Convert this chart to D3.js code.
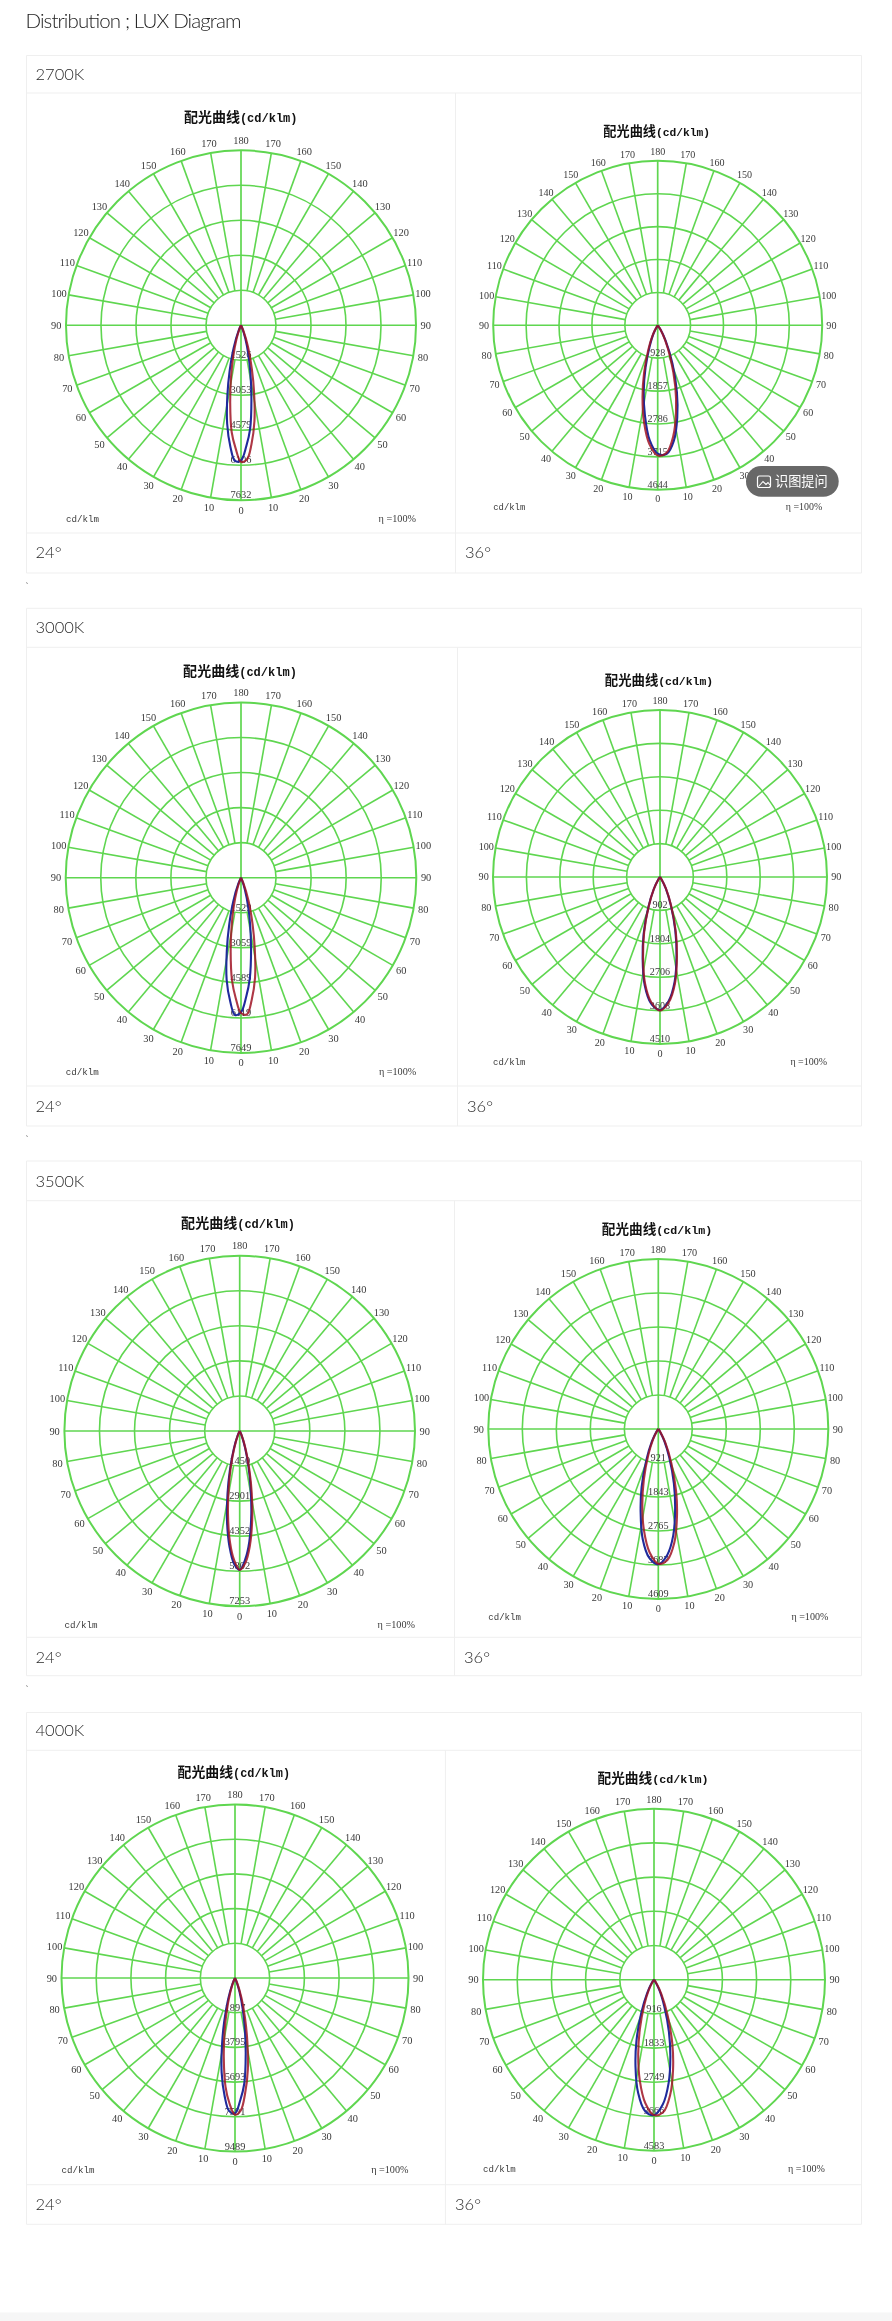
<!DOCTYPE html>
<html><head><meta charset="utf-8">
<script src="https://cdn.jsdelivr.net/npm/d3@7/dist/d3.min.js"></script>
<style>
html,body{margin:0;padding:0;background:#fff}
svg{display:block;filter:blur(0.4px)}
</style></head><body><div id="chart"></div>
<script>
// ---------- data ----------
const pageTitle = "Distribution ; LUX Diagram";
const cctLabels = ["2700K","3000K","3500K","4000K"];
const beamLabels = ["24°","36°"];
const angleTicks = [10,20,30,40,50,60,70,80,90,100,110,120,130,140,150,160,170];
const titleCn = "配光曲线";
const titleEn = "(cd/klm)";
const unitLabel = "cd/klm";
const effLabel = "η =100%";

// ring labels (cd/klm) per diagram
const rings2700n = [1526,3053,4579,6106,7632];
const rings2700w = [928,1857,2786,3715,4644];
const rings3000n = [1529,3059,4589,6119,7649];
const rings3000w = [902,1804,2706,3608,4510];
const rings3500n = [1450,2901,4352,5802,7253];
const rings3500w = [921,1843,2765,3687,4609];
const rings4000n = [1897,3795,5693,7591,9489];
const rings4000w = [916,1833,2749,3666,4583];

// curve sample angles (deg, signed from nadir)
const anglesNarrow = [-24,-18,-14,-11,-8,-5,-2.5,0,2.5,5,8,11,14,18,24];
const anglesWide = [-34,-27,-21,-16,-12,-8,-4,0,4,8,12,16,21,27,34];

// intensity (cd/klm) at those angles
const blue2700n = [244,1038,2046,3114,4335,5312,5923,5892,5282,4549,3267,2168,1343,611,92];
const red2700n  = [122,641,1404,2265,3389,4671,5373,5953,5862,5221,4213,2992,1954,977,244];
const blue2700w = [0,260,632,1245,1895,2582,3251,3622,3641,3288,2656,1969,1170,502,149];
const red2700w  = [37,316,743,1393,2062,2768,3362,3678,3604,3158,2489,1802,1022,446,111];
const blue3000n = [275,1101,2142,3243,4497,5415,5997,5874,5201,4406,3151,2080,1285,551,92];
const red3000n  = [92,581,1316,2142,3243,4497,5262,5905,5966,5354,4406,3151,2080,1071,245];
const blue3000w = [90,379,884,1606,2255,2959,3428,3590,3355,2850,2147,1497,812,343,54];
const red3000w  = [72,361,848,1551,2201,2904,3392,3608,3392,2904,2201,1551,848,361,72];
const blue3500n = [203,812,1683,2640,3771,4816,5483,5744,5309,4584,3452,2350,1480,696,145];
const red3500n  = [145,696,1509,2379,3481,4613,5338,5744,5454,4787,3713,2611,1654,812,203];
const blue3500w = [92,387,903,1641,2304,3023,3503,3669,3429,2913,2194,1530,830,350,55];
const red3500w  = [37,313,756,1419,2083,2784,3355,3650,3558,3116,2433,1751,984,424,111];
const blue4000n = [304,1215,2429,3720,5238,6490,7287,7401,6680,5807,4213,2816,1746,797,152];
const red4000n  = [190,873,1860,2998,4403,5959,6870,7477,7249,6339,5048,3530,2277,1139,266];
const blue4000w = [110,403,953,1705,2383,3061,3519,3629,3354,2804,2108,1448,770,330,37];
const red4000w  = [37,312,733,1375,2035,2731,3318,3629,3556,3116,2456,1778,1008,440,110];

// ---------- layout ----------
const W = 892, H = 2321, tableL = 26.5, tableR = 861.5;
const tables = [
 {top:55.5, r1:93, r2:533, bot:573, div:455.5, hy:74, by:552, x2:465},
 {top:608.3, r1:647.3, r2:1086, bot:1126, div:457.5, hy:627, by:1105.7, x2:467},
 {top:1161, r1:1200.7, r2:1637.3, bot:1675.7, div:454.5, hy:1180.7, by:1656.7, x2:464},
 {top:1712.5, r1:1750.3, r2:2184.7, bot:2224.3, div:445.4, hy:1730, by:2204, x2:455}
];
const panels = [
 {cx:241, cy:325.3, r:175, tx:240.7, ty:116.7, rings:rings2700n, blue:blue2700n, red:red2700n, a:anglesNarrow},
 {cx:657.7, cy:325.3, r:164.5, tx:656.7, ty:130, rings:rings2700w, blue:blue2700w, red:red2700w, a:anglesWide},
 {cx:241, cy:877.7, r:175.3, tx:240, ty:670, rings:rings3000n, blue:blue3000n, red:red3000n, a:anglesNarrow},
 {cx:660, cy:877, r:167, tx:659, ty:679, rings:rings3000w, blue:blue3000w, red:red3000w, a:anglesWide},
 {cx:239.7, cy:1431, r:175.3, tx:238, ty:1222.7, rings:rings3500n, blue:blue3500n, red:red3500n, a:anglesNarrow},
 {cx:658.3, cy:1429, r:170, tx:657, ty:1228, rings:rings3500w, blue:blue3500w, red:red3500w, a:anglesWide},
 {cx:235, cy:1978, r:173.5, tx:233.8, ty:1771.6, rings:rings4000n, blue:blue4000n, red:red4000n, a:anglesNarrow},
 {cx:654, cy:1979.7, r:171, tx:653, ty:1777, rings:rings4000w, blue:blue4000w, red:red4000w, a:anglesWide}
];
const GREEN = "#5fd650", SANS = "Lato, 'Open Sans', sans-serif", SERIF = "'Liberation Serif', serif",
      MONO = "'Liberation Mono', monospace", CJK = "'Noto Sans CJK SC', sans-serif";

const svg = d3.select("#chart").append("svg").attr("width",W).attr("height",H).attr("viewBox",`0 0 ${W} ${H}`);
svg.append("rect").attr("width",W).attr("height",H).attr("fill","#fff");
svg.append("rect").attr("y",2312.5).attr("width",W).attr("height",H-2312.5).attr("fill","#f6f6f6");

svg.append("text").attr("x",25.5).attr("y",27.5).attr("font-family",SANS).attr("font-weight",300)
   .attr("font-size",20.5).attr("fill","#1c1c1c").attr("textLength",216).text(pageTitle);

// tables
const tg = svg.selectAll("g.table").data(tables).join("g").attr("class","table");
tg.each(function(t,i){
  const g = d3.select(this);
  const hline = y => g.append("line").attr("x1",tableL).attr("x2",tableR).attr("y1",y).attr("y2",y);
  [t.top,t.r1,t.r2,t.bot].forEach(hline);
  [[tableL,t.top,t.bot],[tableR,t.top,t.bot],[t.div,t.r1,t.bot]].forEach(([x,a,b]) =>
    g.append("line").attr("x1",x).attr("x2",x).attr("y1",a).attr("y2",b));
  g.selectAll("line").attr("stroke","#efefef").attr("stroke-width",1);
  const lab = (x,y,s) => g.append("text").attr("x",x).attr("y",y).attr("dy","0.36em")
     .attr("font-family",SANS).attr("font-weight",300).attr("font-size",16.5).attr("fill","#2a2a2a").text(s);
  lab(35.5,t.hy,cctLabels[i]);
  lab(35.5,t.by,beamLabels[0]);
  lab(t.x2,t.by,beamLabels[1]);
  if(i<3) g.append("text").attr("x",25.5).attr("y",t.bot+16).attr("font-family",SERIF).attr("font-size",9).attr("fill","#666").text("`");
});

// polar diagrams
const pg = svg.selectAll("g.panel").data(panels).join("g").attr("class","panel")
  .attr("transform",d=>`translate(${d.cx},${d.cy})`);
pg.each(function(p){
  const g = d3.select(this);
  const max = p.rings[p.rings.length-1];
  const rs = d3.scaleLinear().domain([0,max]).range([0,p.r]);
  const ang = d3.scaleLinear().domain([0,180]).range([0,Math.PI]);
  const pos = (deg,rad) => [rad*Math.sin(ang(deg)), rad*Math.cos(ang(deg))];
  const r1 = rs(p.rings[0]);

  // rings
  g.selectAll("circle").data(p.rings).join("circle")
    .attr("r",d=>rs(d)).attr("fill","none").attr("stroke",GREEN)
    .attr("stroke-width",(d,i)=>i===4?2:1.6);
  // spokes
  const spoke = (deg,from) => {
    [1,-1].forEach(s=>{
      const [x1,y1]=pos(deg,from),[x2,y2]=pos(deg,p.r);
      g.append("line").attr("x1",s*x1).attr("y1",y1).attr("x2",s*x2).attr("y2",y2)
       .attr("stroke",GREEN).attr("stroke-width",1.6);
    });
  };
  angleTicks.forEach(a=>spoke(a, a===90?0:r1));
  g.append("line").attr("y1",-p.r).attr("y2",p.r).attr("stroke",GREEN).attr("stroke-width",1.7);

  // angle labels
  const lr = p.r*1.056;
  const txt = (x,y,s) => g.append("text").attr("x",x).attr("y",y).attr("dy","0.34em")
     .attr("text-anchor","middle").attr("font-family",SERIF).attr("font-size",10.4*Math.sqrt(p.r/175))
     .attr("fill","#3a3a3a").text(s);
  angleTicks.forEach(a=>{ const [x,y]=pos(a,lr); txt(x,y,a); txt(-x,y,a); });
  txt(0,lr,0); txt(0,-lr,180);

  // ring value labels
  p.rings.forEach(v=>txt(0,rs(v)-5.5,v));

  // footer
  const fs = 9.2*Math.sqrt(p.r/175), fy = p.r*1.105;
  g.append("text").attr("x",-p.r).attr("y",fy).attr("dy","0.34em").attr("font-family",MONO).attr("font-size",fs).attr("fill","#3a3a3a").text(unitLabel);
  g.append("text").attr("x",p.r).attr("y",fy).attr("dy","0.34em").attr("text-anchor","end").attr("font-family",SERIF).attr("font-size",fs+1).attr("fill","#3a3a3a").text(effLabel);

  // curves
  const line = d3.lineRadial().angle(d=>Math.PI-ang(d[0])).radius(d=>rs(d[1])).curve(d3.curveCatmullRom.alpha(0.5));
  const toPts = vals => [[p.a[0]-6,0]].concat(p.a.map((a,i)=>[a,vals[i]]),[[p.a[p.a.length-1]+6,0]]);
  g.append("path").attr("d",line(toPts(p.blue))).attr("fill","none").attr("stroke","#1f2a9c").attr("stroke-width",2.1);
  g.append("path").attr("d",line(toPts(p.red))).attr("fill","none").attr("stroke","#a01424").attr("stroke-width",2.1).attr("stroke-opacity",0.85);

  // title
  const k = p.r/175;
  const tt = svg.append("text").attr("x",p.tx).attr("y",p.ty).attr("dy","0.36em").attr("text-anchor","middle").attr("fill","#111").attr("font-weight",700);
  tt.append("tspan").attr("font-family",CJK).attr("font-size",14*k).text(titleCn);
  tt.append("tspan").attr("font-family",MONO).attr("font-size",12*k).text(titleEn);
});

// image-hint pill over the 2700K 36° diagram
const pill = svg.append("g");
pill.append("rect").attr("x",746).attr("y",466).attr("width",92.7).attr("height",30.7).attr("rx",15.3).attr("fill","#686868");
pill.append("rect").attr("x",757.5).attr("y",476).attr("width",13).attr("height",11.5).attr("rx",2).attr("fill","none").attr("stroke","#fff").attr("stroke-width",1.2);
pill.append("path").attr("d",d3.line()([[759,486],[763,481.5],[766,484.5],[768,482.5],[770,485]])).attr("fill","none").attr("stroke","#fff").attr("stroke-width",1.1);
pill.append("text").attr("x",775).attr("y",481.5).attr("dy","0.36em").attr("font-family",CJK).attr("font-size",13.2).attr("fill","#fff").text("识图提问");
</script></body></html>
